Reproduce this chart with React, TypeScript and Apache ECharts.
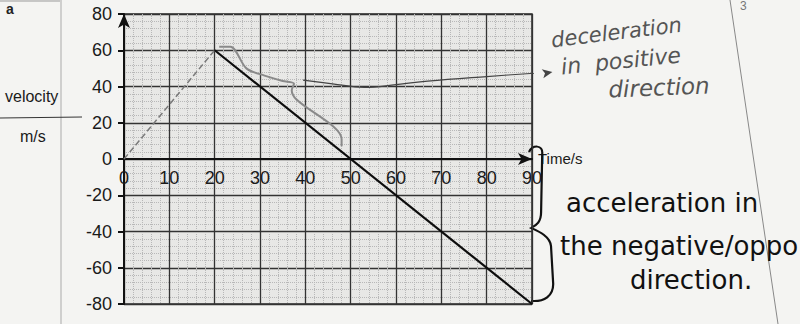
import React, { useEffect, useRef } from "react";
import * as echarts from "echarts";

// ---- data (velocity–time graph) ----
const accelPhase: [number, number][] = [
  [0, 0],
  [20, 60],
];
const decelPhase: [number, number][] = [
  [20, 60],
  [90, -80],
];
// hand-drawn pencil bracket beside the 20–50 s segment
const pencilBracket: [number, number][] = [
  [21, 62],
  [23.5, 62],
  [27, 50],
  [31, 46],
  [35, 43],
  [37.5, 41.5],
  [37, 38],
  [38, 33],
  [48, 11],
  [48, 7],
];
// hand-drawn arrow pointing to the note
const noteArrow: [number, number][] = [
  [39.5, 43.5],
  [46, 41.5],
  [53, 39.5],
  [60, 41],
  [67, 43],
  [80, 45.5],
  [94.5, 48],
];
const xTicks = [0, 10, 20, 30, 40, 50, 60, 70, 80, 90];
const yTicks = [-80, -60, -40, -20, 0, 20, 40, 60, 80];

const bracePath =
  "M 0 6 C 3 -1 13 -2 12 8 L 11 66 C 11 76 7 79 2 82 C 8 85 19 90 20 100 L 22 138 C 22 150 14 156 2 155";

const W = 800;
const H = 324;
const GRID_TOP = 14;
const GRID_BOTTOM = 20;

export default function App() {
  const ref = useRef<HTMLDivElement>(null);
  useEffect(() => {
    if (!ref.current) return;
    try {
      echarts.graphic.registerShape(
        "brace",
        echarts.graphic.extendPath(bracePath, {})
      );
    } catch (e) {}
    const chart = echarts.init(ref.current, null, { renderer: "svg" });
    const yMin = yTicks[0];
    const yMax = yTicks[yTicks.length - 1];
    const plotH = H - GRID_TOP - GRID_BOTTOM;
    // distance from grid bottom up to v = 0
    const zeroOffset = ((0 - yMin) / (yMax - yMin)) * plotH;
    const lab = { fontFamily: "Liberation Sans", fontSize: 18, color: "#1a1a1a" };
    chart.setOption({
      animation: false,
      backgroundColor: "#f4f4f2",
      grid: {
        left: 124,
        right: 268,
        top: GRID_TOP,
        bottom: GRID_BOTTOM,
        outerBoundsMode: "none",
        containLabel: false,
        show: true,
        backgroundColor: "#e8e8e6",
        borderColor: "#2a2a2a",
        borderWidth: 1.5,
      },
      xAxis: {
        type: "value",
        min: xTicks[0],
        max: xTicks[xTicks.length - 1],
        interval: 10,
        offset: -zeroOffset,
        axisLine: {
          show: true,
          onZero: false,
          symbol: ["none", "arrow"],
          symbolSize: [9, 14],
          lineStyle: { color: "#111", width: 2 },
        },
        axisTick: { show: false },
        axisLabel: { ...lab, margin: 10 },
        splitLine: { show: true, lineStyle: { color: "#333", width: 1.3 } },
        minorTick: { show: false, splitNumber: 5 },
        minorSplitLine: { show: true, lineStyle: { color: "#b8b8b8", width: 1, type: "dotted" } },
      },
      yAxis: {
        type: "value",
        min: yMin,
        max: yMax,
        interval: 20,
        axisLine: {
          show: true,
          onZero: false,
          symbol: ["none", "arrow"],
          symbolSize: [9, 14],
          lineStyle: { color: "#111", width: 2 },
        },
        axisTick: { show: true, length: 6, lineStyle: { color: "#111", width: 2 } },
        axisLabel: { ...lab, margin: 12 },
        splitLine: { show: true, lineStyle: { color: "#333", width: 1.3 } },
        minorTick: { show: false, splitNumber: 5 },
        minorSplitLine: { show: true, lineStyle: { color: "#b8b8b8", width: 1, type: "dotted" } },
      },
      series: [
        {
          type: "line",
          data: accelPhase,
          symbol: "none",
          lineStyle: { color: "#7a7a7a", width: 1.5, type: "dashed" },
        },
        {
          type: "line",
          data: decelPhase,
          symbol: "none",
          lineStyle: { color: "#0d0d0d", width: 2.2 },
        },
        {
          type: "line",
          data: pencilBracket,
          symbol: "none",
          smooth: 0.3,
          lineStyle: { color: "#8a8a8a", width: 2 },
        },
        {
          type: "line",
          clip: false,
          smooth: 0.4,
          data: noteArrow.map((p, i) =>
            i === noteArrow.length - 1
              ? { value: p, symbol: "arrow", symbolSize: [7, 10], symbolRotate: -80 }
              : { value: p, symbol: "none" }
          ),
          symbol: "none",
          itemStyle: { color: "#444" },
          lineStyle: { color: "#444", width: 1.2 },
        },
      ],
      graphic: [
        { type: "text", left: 6, top: 2, style: { text: "a", font: "bold 14px Liberation Sans", fill: "#222" } },
        { type: "line", shape: { x1: 0, y1: 1, x2: 60, y2: 1 }, style: { stroke: "#999", lineWidth: 1 } },
        { type: "line", shape: { x1: 61, y1: 0, x2: 61, y2: H }, style: { stroke: "#aaa", lineWidth: 1 } },
        { type: "text", left: 5, top: 88, style: { text: "velocity", font: "16px Liberation Sans", fill: "#1a1a1a" } },
        { type: "line", shape: { x1: 0, y1: 118, x2: 82, y2: 117 }, style: { stroke: "#333", lineWidth: 1 } },
        { type: "text", left: 20, top: 128, style: { text: "m/s", font: "16px Liberation Sans", fill: "#1a1a1a" } },
        { type: "text", left: 538, top: 151, style: { text: "Time/s", font: "15px Liberation Sans", fill: "#1a1a1a" } },
        {
          type: "brace",
          x: 529,
          y: 146,
          scaleX: 1.1,
          scaleY: 1.0,
          style: { stroke: "#111", lineWidth: 2, fill: "none" },
        },
        { type: "text", left: 740, top: 0, style: { text: "3", font: "12px Liberation Sans", fill: "#777" } },
        { type: "line", shape: { x1: 730, y1: 0, x2: 778, y2: H }, style: { stroke: "#888", lineWidth: 1 } },
        {
          type: "text",
          x: 550,
          y: 30,
          rotation: 0.12,
          style: { text: "deceleration", font: "italic 21px DejaVu Sans", fill: "#555" },
        },
        {
          type: "text",
          x: 560,
          y: 56,
          rotation: 0.1,
          style: { text: "in  positive", font: "italic 22px DejaVu Sans", fill: "#555" },
        },
        {
          type: "text",
          x: 608,
          y: 78,
          rotation: 0.04,
          style: { text: "direction", font: "italic 23px DejaVu Sans", fill: "#555" },
        },
        {
          type: "text",
          x: 566,
          y: 190,
          style: { text: "acceleration in", font: "26px DejaVu Sans", fill: "#111" },
        },
        {
          type: "text",
          x: 560,
          y: 233,
          style: { text: "the negative/oppo", font: "26px DejaVu Sans", fill: "#111" },
        },
        {
          type: "text",
          x: 630,
          y: 267,
          style: { text: "direction.", font: "26px DejaVu Sans", fill: "#111" },
        },
      ],
    });
    return () => chart.dispose();
  }, []);
  return (
    <div
      ref={ref}
      style={{ position: "fixed", left: 0, top: 0, width: W, height: H }}
    />
  );
}
